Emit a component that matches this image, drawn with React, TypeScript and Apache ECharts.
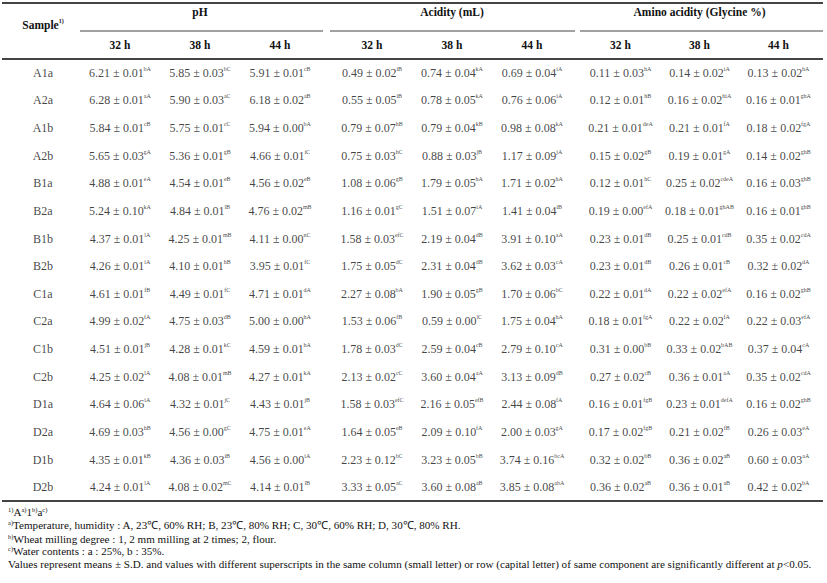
import React, { useEffect, useRef } from "react";
import * as echarts from "echarts";

const samples = ["A1a", "A2a", "A1b", "A2b", "B1a", "B2a", "B1b", "B2b", "C1a", "C2a", "C1b", "C2b", "D1a", "D2a", "D1b", "D2b"];
const hours = ["32 h", "38 h", "44 h"];
const groupNames = ["pH", "Acidity (mL)", "Amino acidity (Glycine %)"];

const phMean = [
  [6.21, 5.85, 5.91], [6.28, 5.9, 6.18], [5.84, 5.75, 5.94], [5.65, 5.36, 4.66],
  [4.88, 4.54, 4.56], [5.24, 4.84, 4.76], [4.37, 4.25, 4.11], [4.26, 4.1, 3.95],
  [4.61, 4.49, 4.71], [4.99, 4.75, 5.0], [4.51, 4.28, 4.59], [4.25, 4.08, 4.27],
  [4.64, 4.32, 4.43], [4.69, 4.56, 4.75], [4.35, 4.36, 4.56], [4.24, 4.08, 4.14],
];
const phSd = [
  [0.01, 0.03, 0.01], [0.01, 0.03, 0.02], [0.01, 0.01, 0.0], [0.03, 0.01, 0.01],
  [0.01, 0.01, 0.02], [0.1, 0.01, 0.02], [0.01, 0.01, 0.0], [0.01, 0.01, 0.01],
  [0.01, 0.01, 0.01], [0.02, 0.03, 0.0], [0.01, 0.01, 0.01], [0.02, 0.01, 0.01],
  [0.06, 0.01, 0.01], [0.03, 0.0, 0.01], [0.01, 0.03, 0.0], [0.01, 0.02, 0.01],
];
const phSig = [
  ["bA", "bC", "cB"], ["aA", "aC", "aB"], ["cB", "cC", "bA"], ["gA", "gB", "iC"],
  ["eA", "eB", "eB"], ["kA", "lB", "mB"], ["lA", "mB", "nC"], ["iA", "hB", "fC"],
  ["fB", "fC", "dA"], ["fA", "dB", "hA"], ["jB", "kC", "hA"], ["lA", "mB", "kA"],
  ["iA", "jC", "jB"], ["hB", "gC", "eA"], ["kB", "iB", "iA"], ["lA", "mC", "lB"],
];

const acMean = [
  [0.49, 0.74, 0.69], [0.55, 0.78, 0.76], [0.79, 0.79, 0.98], [0.75, 0.88, 1.17],
  [1.08, 1.79, 1.71], [1.16, 1.51, 1.41], [1.58, 2.19, 3.91], [1.75, 2.31, 3.62],
  [2.27, 1.9, 1.7], [1.53, 0.59, 1.75], [1.78, 2.59, 2.79], [2.13, 3.6, 3.13],
  [1.58, 2.16, 2.44], [1.64, 2.09, 2.0], [2.23, 3.23, 3.74], [3.33, 3.6, 3.85],
];
const acSd = [
  [0.02, 0.04, 0.04], [0.05, 0.05, 0.06], [0.07, 0.04, 0.08], [0.03, 0.03, 0.09],
  [0.06, 0.05, 0.02], [0.01, 0.07, 0.04], [0.03, 0.04, 0.1], [0.05, 0.04, 0.03],
  [0.08, 0.05, 0.06], [0.06, 0.0, 0.04], [0.03, 0.04, 0.1], [0.02, 0.04, 0.09],
  [0.03, 0.05, 0.08], [0.05, 0.1, 0.03], [0.12, 0.05, 0.16], [0.05, 0.08, 0.08],
];
const acSig = [
  ["iB", "kA", "iA"], ["iB", "kA", "iA"], ["hB", "kB", "kA"], ["hC", "jB", "jA"],
  ["gB", "hA", "hA"], ["gC", "iA", "iB"], ["efC", "dB", "aA"], ["dC", "dB", "cA"],
  ["bA", "gB", "bC"], ["fB", "lC", "hA"], ["dC", "cB", "cA"], ["cC", "aA", "dB"],
  ["efC", "efB", "fA"], ["eB", "fA", "gA"], ["bC", "bB", "bcA"], ["aC", "aB", "abA"],
];

const amMean = [
  [0.11, 0.14, 0.13], [0.12, 0.16, 0.16], [0.21, 0.21, 0.18], [0.15, 0.19, 0.14],
  [0.12, 0.25, 0.16], [0.19, 0.18, 0.16], [0.23, 0.25, 0.35], [0.23, 0.26, 0.32],
  [0.22, 0.22, 0.16], [0.18, 0.22, 0.22], [0.31, 0.33, 0.37], [0.27, 0.36, 0.35],
  [0.16, 0.23, 0.16], [0.17, 0.21, 0.26], [0.32, 0.36, 0.6], [0.36, 0.36, 0.42],
];
const amSd = [
  [0.03, 0.02, 0.02], [0.01, 0.02, 0.01], [0.01, 0.01, 0.02], [0.02, 0.01, 0.02],
  [0.01, 0.02, 0.03], [0.0, 0.01, 0.01], [0.01, 0.01, 0.02], [0.01, 0.01, 0.02],
  [0.01, 0.02, 0.02], [0.01, 0.02, 0.03], [0.0, 0.02, 0.04], [0.02, 0.01, 0.02],
  [0.01, 0.01, 0.02], [0.02, 0.02, 0.03], [0.02, 0.02, 0.03], [0.02, 0.01, 0.02],
];
const amSig = [
  ["hA", "iA", "hA"], ["hB", "hiA", "ghA"], ["deA", "fA", "fgA"], ["gB", "gA", "ghB"],
  ["hC", "cdeA", "ghB"], ["efA", "ghAB", "ghB"], ["dB", "cdB", "cdA"], ["dB", "cB", "dA"],
  ["dA", "efA", "ghB"], ["fgA", "fA", "efA"], ["bB", "bAB", "cA"], ["cB", "aA", "cdA"],
  ["fgB", "defA", "ghB"], ["fgB", "fB", "eA"], ["bB", "aB", "aA"], ["aB", "aB", "bA"],
];

const footnotes = [
  "{s|1)}{t|A}{s|a)}{t|1}{s|b)}{t|a}{s|c)}",
  "{s|a)}{t|Temperature, humidity : A, 23\u2103, 60% RH; B, 23\u2103, 80% RH; C, 30\u2103, 60% RH; D, 30\u2103, 80% RH.}",
  "{s|b)}{t|Wheat milling degree : 1, 2 mm milling at 2 times; 2, flour.}",
  "{s|c)}{t|Water contents : a : 25%, b : 35%.}",
  "{t|Values represent means \u00b1 S.D. and values with different superscripts in the same column (small letter) or row (capital letter) of same component are significantly different at }{i|p}{t|<0.05.}",
];

const FONT = "Liberation Serif";
const INK = "#111111";
const LINE = "#444444";
const NOTE_SIZE = 11.1;

export default function App() {
  const ref = useRef<HTMLDivElement>(null);
  useEffect(() => {
    if (!ref.current) return;
    const chart = echarts.init(ref.current, undefined, { renderer: "svg" });

    const top = 59;
    const height = 442;
    const grids = [
      { left: 3, width: 80 },
      { left: 80, width: 240 },
      { left: 332, width: 240 },
      { left: 581, width: 237 },
    ].map((g) => ({ ...g, top, height }));

    const xAxes: any[] = grids.map((_, i) => ({
      gridIndex: i,
      type: "category",
      data: i === 0 ? [""] : hours,
      position: "top",
      axisLine: { show: false },
      axisTick: { show: false },
      splitLine: { show: false },
      axisLabel: {
        show: i > 0,
        margin: 8,
        fontFamily: FONT,
        fontSize: 11.5,
        fontWeight: "bold",
        color: INK,
      },
      name: i === 0 ? "{b|Sample}{s|1)}" : groupNames[i - 1],
      nameLocation: "middle",
      nameGap: i === 0 ? 28 : 41,
      nameTextStyle: {
        fontFamily: FONT,
        fontSize: 11.5,
        fontWeight: "bold",
        color: INK,
        rich: {
          b: { fontFamily: FONT, fontSize: 11.5, fontWeight: "bold", color: INK, lineHeight: 13 },
          s: { fontFamily: FONT, fontSize: 6, fontWeight: "bold", color: INK, verticalAlign: "top", lineHeight: 7 },
        },
      },
    }));

    const yAxes: any[] = grids.map((_, i) => ({
      gridIndex: i,
      type: "category",
      data: samples,
      inverse: true,
      show: false,
    }));

    const rich = {
      v: { fontFamily: FONT, fontSize: 12, color: INK, lineHeight: 14 },
      s: { fontFamily: FONT, fontSize: 6, color: INK, verticalAlign: "top", lineHeight: 8 },
    };

    const groups = [
      [phMean, phSd, phSig],
      [acMean, acSd, acSig],
      [amMean, amSd, amSig],
    ];

    const series: any[] = [
      {
        type: "scatter",
        xAxisIndex: 0,
        yAxisIndex: 0,
        symbolSize: 1,
        itemStyle: { color: "rgba(0,0,0,0)" },
        data: samples.map((s, r) => [0, r, s]),
        label: {
          show: true,
          position: "inside",
          fontFamily: FONT,
          fontSize: 12,
          color: INK,
          formatter: (p: any) => p.data[2],
        },
      },
      ...groups.map(([mean, sd, sig], g) => {
        const data: any[] = [];
        mean.forEach((row: any, r: number) => {
          row.forEach((m: number, c: number) => {
            data.push([c, r, m.toFixed(2), (sd as any)[r][c].toFixed(2), (sig as any)[r][c]]);
          });
        });
        return {
          type: "scatter",
          xAxisIndex: g + 1,
          yAxisIndex: g + 1,
          symbolSize: 1,
          itemStyle: { color: "rgba(0,0,0,0)" },
          data,
          label: {
            show: true,
            position: "inside",
            formatter: (p: any) => `{v|${p.data[2]} \u00b1 ${p.data[3]}}{s|${p.data[4]}}`,
            rich,
          },
        };
      }),
    ];

    const hLine = (x1: number, x2: number, y: number, w: number) => ({
      type: "line",
      shape: { x1, y1: y, x2, y2: y },
      style: { stroke: LINE, lineWidth: w },
      silent: true,
    });

    const noteRich = {
      t: { fontFamily: FONT, fontSize: NOTE_SIZE, fill: INK, lineHeight: 13 },
      i: { fontFamily: FONT, fontSize: NOTE_SIZE, fontStyle: "italic", fill: INK, lineHeight: 13 },
      s: { fontFamily: FONT, fontSize: 6.5, fill: INK, verticalAlign: "top", lineHeight: 7 },
    };
    const noteY = [512, 525, 539, 551, 564];

    chart.setOption({
      animation: false,
      backgroundColor: "#ffffff",
      grid: grids,
      xAxis: xAxes,
      yAxis: yAxes,
      series,
      graphic: [
        hLine(2, 823, 3, 2),
        hLine(2, 823, 59, 2),
        hLine(2, 823, 501, 2),
        hLine(80, 323, 31, 1),
        hLine(330, 575, 31, 1),
        hLine(580, 823, 31, 1),
        ...footnotes.map((txt, k) => ({
          type: "text",
          x: 8,
          y: noteY[k],
          silent: true,
          style: {
            text: txt,
            rich: noteRich,
            fill: INK,
            font: `${NOTE_SIZE}px ${FONT}`,
            verticalAlign: "middle",
            align: "left",
          },
        })),
      ],
    });
    return () => chart.dispose();
  }, []);

  return (
    <div
      ref={ref}
      style={{ position: "fixed", left: 0, top: 0, width: 827, height: 583, background: "#fff" }}
    />
  );
}
